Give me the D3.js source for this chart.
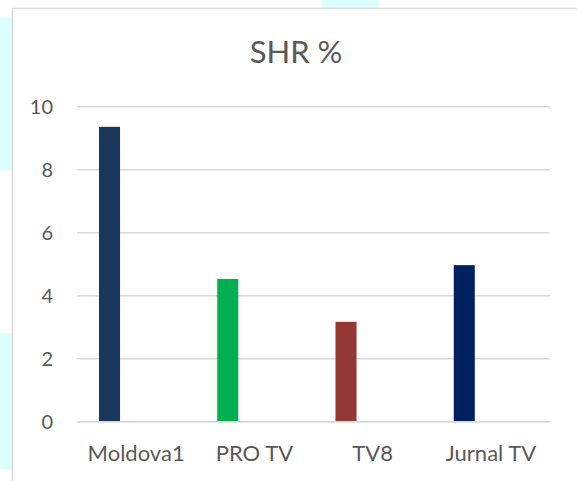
<!DOCTYPE html>
<html>
<head>
<meta charset="utf-8">
<script src="https://cdn.jsdelivr.net/npm/d3@7"></script>
<style>
    body { margin: 0; background: #ffffff; }
    text { font-family: Lato, "Open Sans", sans-serif; fill: #595959; }
</style>
</head>
<body>
<div id="chart"></div>
<script>

// chart data
const channels   = [ "Moldova1", "PRO TV", "TV8", "Jurnal TV" ];
const shrValues  = [ 9.36, 4.53, 3.17, 4.97 ];
const barColors  = [ "#1b375c", "#00b050", "#953735", "#002060" ];
const yTicks     = [ 0, 2, 4, 6, 8, 10 ];
const chartTitle = "SHR %";

const width  = 577;
const height = 481;

const plot = { left: 77, right: 550, top: 106.7, bottom: 421.7 };

const svg = d3.select( "#chart" )
              .append( "svg" )
              .attr( "width",  width )
              .attr( "height", height );

// light cyan patches peeking out behind the chart frame
svg.append( "rect" ).attr( "x", 322 ).attr( "y", 0 ).attr( "width", 57 ).attr( "height", 8 ).attr( "fill", "#dbfefe" );
svg.append( "rect" ).attr( "x", 0 ).attr( "y", 17.5 ).attr( "width", 12 ).attr( "height", 153 ).attr( "fill", "#dbfefe" );
svg.append( "rect" ).attr( "x", 0 ).attr( "y", 333 ).attr( "width", 12 ).attr( "height", 136 ).attr( "fill", "#dbfefe" );

// chart frame (runs off the right and bottom edges)
svg.append( "rect" )
   .attr( "x", 12.5 )
   .attr( "y", 8.5 )
   .attr( "width", width + 20 )
   .attr( "height", height + 20 )
   .attr( "fill", "#ffffff" )
   .attr( "stroke", "#d9d9d9" )
   .attr( "stroke-width", 1.5 );

const x = d3.scaleBand()
            .domain( channels )
            .range( [ plot.left, plot.right ] )
            .padding( 0 );

const y = d3.scaleLinear()
            .domain( [ 0, 10 ] )
            .range( [ plot.bottom, plot.top ] );

// gridlines
svg.append( "g" )
   .selectAll( "line" )
   .data( yTicks )
   .join( "line" )
   .attr( "x1", plot.left )
   .attr( "x2", plot.right )
   .attr( "y1", d => y( d ) )
   .attr( "y2", d => y( d ) )
   .attr( "stroke", "#d9d9d9" )
   .attr( "stroke-width", 1.4 );

// y tick labels
svg.append( "g" )
   .selectAll( "text" )
   .data( yTicks )
   .join( "text" )
   .attr( "x", 53 )
   .attr( "y", d => y( d ) )
   .attr( "dy", "0.35em" )
   .attr( "text-anchor", "end" )
   .style( "font-size", "20px" )
   .text( d => d );

// bars sit in the left part of each category slot
const barOffset = 0.186;
const barWidth  = 0.178;

svg.append( "g" )
   .selectAll( "rect" )
   .data( channels )
   .join( "rect" )
   .attr( "x", d => x( d ) + x.bandwidth() * barOffset )
   .attr( "width", x.bandwidth() * barWidth )
   .attr( "y", ( d, i ) => y( shrValues[ i ] ) )
   .attr( "height", ( d, i ) => y( 0 ) - y( shrValues[ i ] ) )
   .attr( "fill", ( d, i ) => barColors[ i ] );

// redraw the baseline on top of the bars
svg.append( "line" )
   .attr( "x1", plot.left )
   .attr( "x2", plot.right )
   .attr( "y1", y( 0 ) )
   .attr( "y2", y( 0 ) )
   .attr( "stroke", "#d9d9d9" )
   .attr( "stroke-width", 1.4 );

// category labels
svg.append( "g" )
   .selectAll( "text" )
   .data( channels )
   .join( "text" )
   .attr( "x", d => x( d ) + x.bandwidth() / 2 )
   .attr( "y", 461 )
   .attr( "text-anchor", "middle" )
   .style( "font-size", "22px" )
   .text( d => d );

// title
svg.append( "text" )
   .attr( "x", 296 )
   .attr( "y", 63 )
   .attr( "text-anchor", "middle" )
   .style( "font-size", "31px" )
   .text( chartTitle );

</script>
</body>
</html>
